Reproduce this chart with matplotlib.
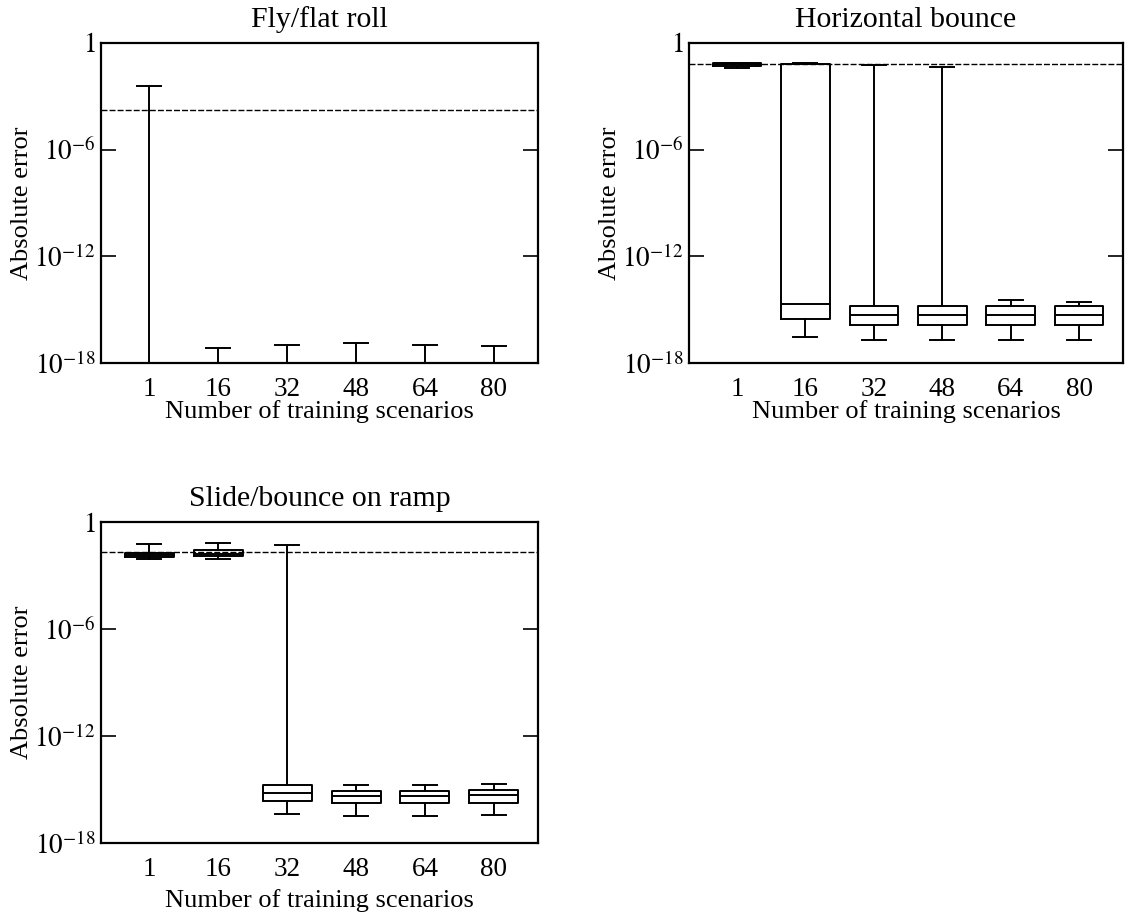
import matplotlib
matplotlib.use("Agg")
import matplotlib.pyplot as plt
import numpy as np

plt.rcParams['font.family'] = ['Liberation Serif', 'DejaVu Serif']
plt.rcParams['mathtext.fontset'] = 'stix'

categories = ['1', '16', '32', '48', '64', '80']
titles = ['Fly/flat roll', 'Horizontal bounce', 'Slide/bounce on ramp']

# log10 of box statistics per panel: (whislo, q1, med, q3, whishi)
fly_stats = [
    (-22.0, -21.0, -20.5, -20.0, -2.42),
    (-22.0, -21.0, -20.5, -20.0, -17.15),
    (-22.0, -21.0, -20.5, -20.0, -16.97),
    (-22.0, -21.0, -20.5, -20.0, -16.90),
    (-22.0, -21.0, -20.5, -20.0, -16.97),
    (-22.0, -21.0, -20.5, -20.0, -17.06),
]
bounce_stats = [
    (-1.42, -1.32, -1.20, -1.10, -1.10),
    (-16.55, -15.50, -14.70, -1.20, -1.10),
    (-16.70, -15.84, -15.28, -14.77, -1.25),
    (-16.70, -15.84, -15.28, -14.77, -1.37),
    (-16.70, -15.84, -15.30, -14.77, -14.44),
    (-16.70, -15.84, -15.30, -14.77, -14.57),
]
ramp_stats = [
    (-2.07, -1.94, -1.85, -1.73, -1.24),
    (-2.07, -1.93, -1.78, -1.57, -1.20),
    (-16.35, -15.63, -15.20, -14.75, -1.31),
    (-16.47, -15.76, -15.35, -15.06, -14.72),
    (-16.47, -15.76, -15.35, -15.06, -14.72),
    (-16.44, -15.73, -15.33, -15.03, -14.68),
]
panel_stats = [fly_stats, bounce_stats, ramp_stats]
# log10 of dashed reference level
ref_levels = [-3.76, -1.20, -1.70]

W, H = 1130, 918
fig = plt.figure(figsize=(W / 100, H / 100), dpi=100)
boxes_px = [(101, 43, 538, 363), (689, 43, 1123, 363), (101, 522, 538, 843)]
xlabel_pads = [-1.5, -1.5, 5]

positions = np.arange(1, len(categories) + 1)
for (l, t, r, b), title, stats, ref, xpad in zip(boxes_px, titles, panel_stats,
                                                  ref_levels, xlabel_pads):
    ax = fig.add_axes([l / W, 1 - b / H, (r - l) / W, (b - t) / H])
    bstats = []
    for (lo, q1, med, q3, hi), lab in zip(stats, categories):
        bstats.append(dict(whislo=10 ** lo, q1=10 ** q1, med=10 ** med,
                           q3=10 ** q3, whishi=10 ** hi, label=lab, fliers=[]))
    lw = 1.4
    ax.bxp(bstats, positions=positions, widths=0.71, showfliers=False,
           boxprops=dict(color='black', linewidth=lw),
           medianprops=dict(color='black', linewidth=lw),
           whiskerprops=dict(color='black', linewidth=lw),
           capprops=dict(color='black', linewidth=lw),
           capwidths=0.35)
    ax.axhline(10 ** ref, color='black', linewidth=1.0, linestyle=(0, (4.3, 1.5)))
    ax.set_yscale('log')
    ax.set_ylim(1e-18, 1)
    ax.set_xlim(0.3, 6.64)
    ax.set_yticks([1e-18, 1e-12, 1e-6, 1])
    ax.set_yticklabels([r'$10^{-18}$', r'$10^{-12}$', r'$10^{-6}$', r'$1$'])
    ax.yaxis.set_minor_locator(matplotlib.ticker.NullLocator())
    ax.set_xticks(positions)
    ax.set_xticklabels(categories)
    ax.tick_params(axis='y', which='major', direction='in', length=11, width=1.2,
                   right=True, labelsize=19.5, pad=4)
    ax.tick_params(axis='x', length=0, labelsize=19.5, pad=10)
    for s in ax.spines.values():
        s.set_linewidth(1.6)
    ax.set_title(title, fontsize=21.5, pad=11.5)
    ax.set_xlabel('Number of training scenarios', fontsize=19, labelpad=xpad)
    ax.set_ylabel('Absolute error', fontsize=19, labelpad=1)

fig.savefig('out.png', dpi=100)
